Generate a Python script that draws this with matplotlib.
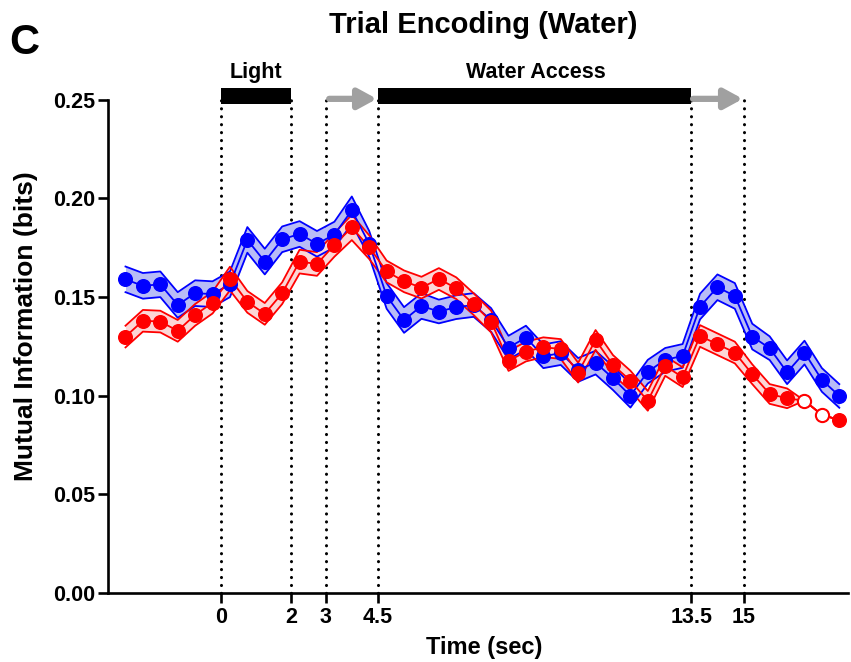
import matplotlib
matplotlib.use("Agg")
import matplotlib.pyplot as plt
import numpy as np

plt.rcParams['font.family'] = ['Liberation Sans', 'DejaVu Sans']
plt.rcParams['font.weight'] = 'bold'

# ---- data ----
time = [-2.75, -2.25, -1.75, -1.25, -0.75, -0.25, 0.25, 0.75, 1.25, 1.75,
        2.25, 2.75, 3.25, 3.75, 4.25, 4.75, 5.25, 5.75, 6.25, 6.75,
        7.25, 7.75, 8.25, 8.75, 9.25, 9.75, 10.25, 10.75, 11.25, 11.75,
        12.25, 12.75, 13.25, 13.75, 14.25, 14.75, 15.25, 15.75, 16.25, 16.75,
        17.25, 17.75]
blue_mi = [0.159, 0.1557, 0.1565, 0.146, 0.152, 0.1515, 0.1565, 0.179, 0.168, 0.1793,
           0.182, 0.177, 0.1817, 0.194, 0.177, 0.1506, 0.1384, 0.1455, 0.1427, 0.1449,
           0.146, 0.1384, 0.1244, 0.1295, 0.120, 0.1216, 0.1131, 0.1168, 0.1089, 0.100,
           0.1122, 0.1182, 0.1202, 0.1452, 0.155, 0.1506, 0.130, 0.1241, 0.1119, 0.1219,
           0.108, 0.0999]
blue_sem = [0.0065, 0.0065, 0.0065, 0.0065, 0.0065, 0.0065, 0.0065, 0.0065, 0.0065, 0.0065,
            0.0065, 0.0065, 0.0065, 0.007, 0.0065, 0.0065, 0.0065, 0.0065, 0.006, 0.006,
            0.006, 0.006, 0.006, 0.006, 0.006, 0.006, 0.006, 0.006, 0.006, 0.006,
            0.006, 0.006, 0.006, 0.0065, 0.0065, 0.0065, 0.0065, 0.006, 0.006, 0.006,
            0.006, 0.006]
red_mi = [0.130, 0.138, 0.1376, 0.1329, 0.141, 0.1472, 0.1594, 0.1476, 0.1415, 0.152,
          0.168, 0.1668, 0.1765, 0.1853, 0.1753, 0.163, 0.158, 0.1548, 0.1592, 0.1545,
          0.1464, 0.1376, 0.1176, 0.1224, 0.1246, 0.1237, 0.1117, 0.1283, 0.1156, 0.1077,
          0.0974, 0.1151, 0.1094, 0.1303, 0.1261, 0.1219, 0.1109, 0.1009, 0.0987, 0.0975,
          0.0903, 0.0877]
red_sem = [0.0055, 0.0055, 0.0055, 0.0055, 0.0055, 0.0055, 0.006, 0.0055, 0.0055, 0.0055,
           0.006, 0.006, 0.006, 0.0064, 0.006, 0.0055, 0.0055, 0.0055, 0.0055, 0.0055,
           0.0055, 0.0055, 0.005, 0.005, 0.005, 0.005, 0.005, 0.005, 0.005, 0.005,
           0.005, 0.005, 0.005, 0.0055, 0.0055, 0.0055, 0.005, 0.005, 0.005, 0.0,
           0.0, 0.0]
red_open = [False] * 39 + [True, True, False]

event_times = [0, 2, 3, 4.5, 13.5, 15]
event_labels = ['0', '2', '3', '4.5', '13.5', '15']
y_ticks = [0.00, 0.05, 0.10, 0.15, 0.20, 0.25]

t = np.array(time)

fig = plt.figure(figsize=(8.51, 6.62), dpi=100)
ax = fig.add_axes([0.127, 0.1042, 0.8695, 0.745])

def draw_series(mi, sem, color, face, open_mask=None):
    mi = np.array(mi); sem = np.array(sem)
    lo = mi - sem; hi = mi + sem
    ax.fill_between(t, lo, hi, color=face, lw=0, zorder=2)
    ax.plot(t, lo, color=color, lw=1.3, zorder=3)
    ax.plot(t, hi, color=color, lw=1.3, zorder=3)
    ax.plot(t, mi, color=color, lw=1.3, zorder=4)
    if open_mask is None:
        open_mask = [False] * len(mi)
    om = np.array(open_mask)
    ax.plot(t[~om], mi[~om], 'o', color=color, ms=9.8, mec=color, zorder=5)
    if om.any():
        ax.plot(t[om], mi[om], 'o', mfc='white', mec=color, mew=1.5, ms=9.5, zorder=5)

draw_series(blue_mi, blue_sem, '#0000ff', '#b8bcf6')
draw_series(red_mi, red_sem, '#ff0000', '#fcd6d6', red_open)

# event lines
for et in event_times:
    ax.plot([et, et], [0, 0.2505], color='black', lw=2.2,
            linestyle=(0, (0.05, 2.55)), dash_capstyle='round', zorder=1, clip_on=False)

# top bars
ax.fill_between([0, 2], 0.2478, 0.2558, color='black', lw=0, clip_on=False, zorder=6)
ax.fill_between([4.5, 13.5], 0.2478, 0.2558, color='black', lw=0, clip_on=False, zorder=6)
for x0, x1 in [(3.1, 4.47), (13.55, 14.98)]:
    ax.annotate('', xy=(x1, 0.2505), xytext=(x0, 0.2505), xycoords='data',
                arrowprops=dict(arrowstyle='-|>,head_length=1.1,head_width=0.6',
                                color='#a0a0a0', lw=4.5, shrinkA=0, shrinkB=0),
                annotation_clip=False, zorder=6)
ax.text(1, 0.2637, 'Light', ha='center', va='center', fontsize=15.5, fontweight='bold')
ax.text(9.05, 0.2637, 'Water Access', ha='center', va='center', fontsize=15.5, fontweight='bold')

ax.set_xlim(-3.25, 18.0)
ax.set_ylim(0, 0.25)
ax.set_xticks(event_times)
ax.set_xticklabels(event_labels)
ax.set_yticks(y_ticks)
ax.set_yticklabels([f'{v:.2f}' for v in y_ticks])
for s in ['top', 'right']:
    ax.spines[s].set_visible(False)
for s in ['left', 'bottom']:
    ax.spines[s].set_linewidth(1.9)
ax.tick_params(axis='both', width=1.9, length=7, labelsize=15.5, pad=3)
ax.tick_params(axis='y', length=7, pad=2)
for lbl in ax.get_xticklabels() + ax.get_yticklabels():
    lbl.set_fontweight('bold')

ax.set_xlabel('Time (sec)', fontsize=17, fontweight='bold')
ax.set_ylabel('Mutual Information (bits)', fontsize=19, fontweight='bold')
ax.xaxis.set_label_coords(0.508, -0.087)
ax.yaxis.set_label_coords(-0.0946, 0.542)

fig.text(0.568, 0.962, 'Trial Encoding (Water)', ha='center', va='center',
         fontsize=21, fontweight='bold')
fig.text(0.011, 0.935, 'C', ha='left', va='center', fontsize=30, fontweight='bold')

fig.savefig('out.png', dpi=100)
